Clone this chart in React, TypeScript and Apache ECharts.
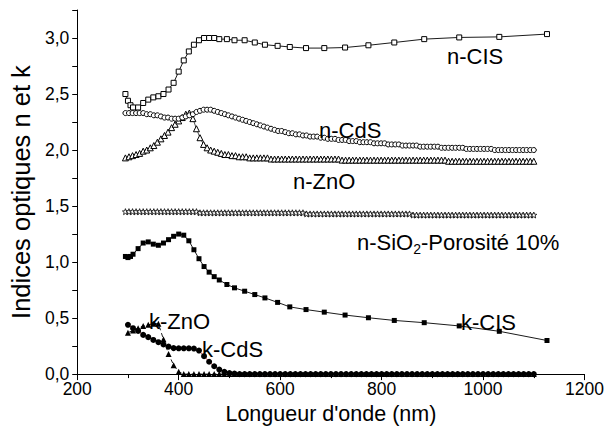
import React, { useEffect, useRef } from 'react';
import * as echarts from 'echarts';

// Wavelength grid (nm) of the dense n-CdS / n-ZnO / n-SiO2 curves
const denseWavelengths = [
  295, 302, 309, 316, 323, 330, 337, 344, 351, 358,
  365, 372, 379, 386, 393, 400, 407, 414, 421, 428,
  435, 442, 449, 456, 463, 470, 477, 484, 491, 498,
  505, 512, 519, 526, 533, 540, 547, 554, 561, 568,
  575, 582, 589, 596, 603, 610, 617, 624, 631, 638,
  645, 652, 659, 666, 673, 680, 687, 694, 701, 708,
  715, 722, 729, 736, 743, 750, 757, 764, 771, 778,
  785, 792, 799, 806, 813, 820, 827, 834, 841, 848,
  855, 862, 869, 876, 883, 890, 897, 904, 911, 918,
  925, 932, 939, 946, 953, 960, 967, 974, 981, 988,
  995, 1002, 1009, 1016, 1023, 1030, 1037, 1044, 1051, 1058,
  1065, 1072, 1079, 1086, 1093, 1100,
];

const nCdS = [
  2.33, 2.33, 2.33, 2.33, 2.33, 2.33, 2.32, 2.32, 2.31, 2.31,
  2.30, 2.29, 2.29, 2.28, 2.28, 2.28, 2.29, 2.30, 2.31, 2.32,
  2.34, 2.35, 2.36, 2.36, 2.36, 2.35, 2.34, 2.33, 2.32, 2.31,
  2.30, 2.29, 2.28, 2.27, 2.26, 2.25, 2.24, 2.23, 2.22, 2.21,
  2.20, 2.19, 2.18, 2.17, 2.17, 2.16, 2.15, 2.15, 2.14, 2.14,
  2.13, 2.13, 2.12, 2.12, 2.12, 2.11, 2.11, 2.10, 2.10, 2.10,
  2.09, 2.09, 2.09, 2.08, 2.08, 2.08, 2.07, 2.07, 2.07, 2.07,
  2.06, 2.06, 2.06, 2.06, 2.05, 2.05, 2.05, 2.05, 2.04, 2.04,
  2.04, 2.04, 2.04, 2.03, 2.03, 2.03, 2.03, 2.03, 2.03, 2.02,
  2.02, 2.02, 2.02, 2.02, 2.02, 2.02, 2.01, 2.01, 2.01, 2.01,
  2.01, 2.01, 2.01, 2.01, 2.00, 2.00, 2.00, 2.00, 2.00, 2.00,
  2.00, 2.00, 2.00, 2.00, 2.00, 2.00,
];

const nZnO = [
  1.93, 1.94, 1.95, 1.96, 1.97, 1.99, 2.00, 2.02, 2.04, 2.07,
  2.10, 2.13, 2.16, 2.20, 2.23, 2.26, 2.29, 2.32, 2.33, 2.28,
  2.19, 2.11, 2.05, 2.02, 2.00, 1.99, 1.98, 1.97, 1.96, 1.96,
  1.95, 1.95, 1.94, 1.94, 1.94, 1.93, 1.93, 1.93, 1.93, 1.93,
  1.93, 1.92, 1.92, 1.92, 1.92, 1.92, 1.92, 1.92, 1.92, 1.92,
  1.92, 1.92, 1.92, 1.92, 1.92, 1.92, 1.92, 1.92, 1.92, 1.92,
  1.92, 1.91, 1.91, 1.91, 1.91, 1.91, 1.91, 1.91, 1.91, 1.91,
  1.91, 1.91, 1.91, 1.91, 1.91, 1.91, 1.91, 1.91, 1.91, 1.91,
  1.91, 1.91, 1.91, 1.91, 1.91, 1.91, 1.91, 1.91, 1.91, 1.91,
  1.91, 1.90, 1.90, 1.90, 1.90, 1.90, 1.90, 1.90, 1.90, 1.90,
  1.90, 1.90, 1.90, 1.90, 1.90, 1.90, 1.90, 1.90, 1.90, 1.90,
  1.90, 1.90, 1.90, 1.90, 1.90, 1.90,
];

const nSiO2 = [
  1.45, 1.45, 1.45, 1.45, 1.45, 1.45, 1.45, 1.45, 1.45, 1.45,
  1.45, 1.45, 1.45, 1.45, 1.45, 1.45, 1.45, 1.45, 1.45, 1.45,
  1.45, 1.44, 1.44, 1.44, 1.44, 1.44, 1.44, 1.44, 1.44, 1.44,
  1.44, 1.44, 1.44, 1.44, 1.44, 1.44, 1.44, 1.44, 1.44, 1.44,
  1.44, 1.44, 1.44, 1.44, 1.44, 1.44, 1.44, 1.44, 1.44, 1.44,
  1.44, 1.43, 1.43, 1.43, 1.43, 1.43, 1.43, 1.43, 1.43, 1.43,
  1.43, 1.43, 1.43, 1.43, 1.43, 1.43, 1.43, 1.43, 1.43, 1.43,
  1.43, 1.43, 1.43, 1.43, 1.43, 1.43, 1.43, 1.43, 1.43, 1.43,
  1.43, 1.42, 1.42, 1.42, 1.42, 1.42, 1.42, 1.42, 1.42, 1.42,
  1.42, 1.42, 1.42, 1.42, 1.42, 1.42, 1.42, 1.42, 1.42, 1.42,
  1.42, 1.42, 1.42, 1.42, 1.42, 1.42, 1.42, 1.42, 1.42, 1.42,
  1.42, 1.42, 1.42, 1.42, 1.42, 1.42,
];

// Wavelength grid (nm) of the k-CdS / k-ZnO curves
const kWavelengths = [
  300, 310, 320, 330, 340, 350, 360, 370, 380, 390,
  400, 410, 420, 430, 440, 450, 460, 470, 480, 490,
  500, 510, 520, 530, 540, 550, 560, 570, 580, 590,
  600, 610, 620, 630, 640, 650, 660, 670, 680, 690,
  700, 710, 720, 730, 740, 750, 760, 770, 780, 790,
  800, 810, 820, 830, 840, 850, 860, 870, 880, 890,
  900, 910, 920, 930, 940, 950, 960, 970, 980, 990,
  1000, 1010, 1020, 1030, 1040, 1050, 1060, 1070, 1080, 1090,
  1100,
];

const kCdS = [
  0.44, 0.41, 0.385, 0.35, 0.33, 0.305, 0.285, 0.265, 0.245, 0.232,
  0.23, 0.23, 0.23, 0.228, 0.21, 0.16, 0.11, 0.07, 0.04, 0.02,
  0.01, 0.005, 0, 0, 0, 0, 0, 0, 0, 0,
  0, 0, 0, 0, 0, 0, 0, 0, 0, 0,
  0, 0, 0, 0, 0, 0, 0, 0, 0, 0,
  0, 0, 0, 0, 0, 0, 0, 0, 0, 0,
  0, 0, 0, 0, 0, 0, 0, 0, 0, 0,
  0, 0, 0, 0, 0, 0, 0, 0, 0, 0,
  0,
];

const kZnO = [
  0.37, 0.39, 0.41, 0.43, 0.44, 0.45, 0.45, 0.31, 0.18, 0.08,
  0.02, 0, 0, 0, 0, 0, 0, 0, 0, 0,
  0, 0, 0, 0, 0, 0, 0, 0, 0, 0,
  0, 0, 0, 0, 0, 0, 0, 0, 0, 0,
  0, 0, 0, 0, 0, 0, 0, 0, 0, 0,
  0, 0, 0, 0, 0, 0, 0, 0, 0, 0,
  0, 0, 0, 0, 0, 0, 0, 0, 0, 0,
  0, 0, 0, 0, 0, 0, 0, 0, 0, 0,
  0,
];

// Wavelength grid (nm) of the CIS curves
const cisWavelengths = [
  295, 300, 305, 310, 320, 330, 340, 350, 360, 370,
  380, 390, 400, 410, 420, 430, 440, 450, 460, 470,
  480, 495, 510, 530, 550, 570, 595, 619, 651, 687,
  728, 774, 825, 884, 953, 1032, 1126,
];

const nCIS = [
  2.50, 2.44, 2.40, 2.38, 2.38, 2.42, 2.45, 2.47, 2.48, 2.50,
  2.54, 2.60, 2.70, 2.80, 2.88, 2.94, 2.98, 3.00, 3.00, 3.00,
  2.99, 2.99, 2.98, 2.98, 2.96, 2.94, 2.93, 2.92, 2.91, 2.91,
  2.915, 2.935, 2.96, 2.99, 3.005, 3.01, 3.035,
];

const kCIS = [
  1.05, 1.04, 1.05, 1.07, 1.12, 1.17, 1.18, 1.16, 1.15, 1.17,
  1.20, 1.23, 1.25, 1.24, 1.19, 1.11, 1.03, 0.96, 0.91, 0.87,
  0.84, 0.80, 0.77, 0.74, 0.71, 0.68, 0.64, 0.60, 0.576, 0.553,
  0.527, 0.503, 0.479, 0.459, 0.43, 0.382, 0.30,
];

const xTitle = "Longueur d'onde (nm)";
const yTitle = 'Indices optiques n et k';

const FONT = '"Liberation Sans", Arial, Helvetica, sans-serif';
const STAR =
  'path://M12,1 L14.9,8.6 L23,9.1 L16.7,14.2 L18.8,22.1 L12,17.6 L5.2,22.1 L7.3,14.2 L1,9.1 L9.1,8.6 Z';

const pairs = (xs: number[], ys: number[]) => xs.map((x, i) => [x, ys[i]]);

export default function App() {
  const ref = useRef<HTMLDivElement>(null);

  useEffect(() => {
    if (!ref.current) return;
    const chart = echarts.init(ref.current, null, { renderer: 'svg' });

    const openStyle = { color: '#ffffff', borderColor: '#000000', borderWidth: 1 };
    const filledStyle = { color: '#000000', borderColor: '#000000', borderWidth: 0 };
    const line = (w = 0.9, type: any = 'solid', color = '#000') => ({ color, width: w, type });

    const annFont = { fontFamily: FONT, fontSize: 22, fill: '#000' };
    const ann = (text: string, x: number, y: number) => ({
      type: 'text',
      x,
      y,
      style: { ...annFont, text, align: 'left', verticalAlign: 'middle' },
      z: 100,
    });

    chart.setOption({
      animation: false,
      backgroundColor: '#ffffff',
      grid: { left: 70, right: 21, top: 10, bottom: 52, containLabel: false },
      xAxis: {
        type: 'value',
        min: 200,
        max: 1200,
        interval: 200,
        name: xTitle,
        nameLocation: 'middle',
        nameGap: 21,
        nameTextStyle: { fontFamily: FONT, fontSize: 21.5, color: '#000' },
        axisLine: { show: true, onZero: false, lineStyle: { color: '#000', width: 1 } },
        axisTick: { show: true, inside: false, length: 6, lineStyle: { color: '#000', width: 1 } },
        minorTick: { show: true, splitNumber: 2, length: 4, lineStyle: { color: '#000', width: 1 } },
        axisLabel: {
          fontFamily: FONT,
          fontSize: 17.5,
          color: '#000',
          margin: 6,
          formatter: (v: number) => String(Math.round(v)),
        },
        splitLine: { show: false },
      },
      yAxis: {
        type: 'value',
        min: 0,
        max: 3.25,
        interval: 0.25,
        name: yTitle,
        nameLocation: 'middle',
        nameGap: 35,
        nameTextStyle: { fontFamily: FONT, fontSize: 25.5, color: '#000' },
        axisLine: { show: true, onZero: false, lineStyle: { color: '#000', width: 1 } },
        axisTick: { show: true, inside: false, length: 5, lineStyle: { color: '#000', width: 1 } },
        axisLabel: {
          fontFamily: FONT,
          fontSize: 17.5,
          color: '#000',
          margin: 8,
          formatter: (v: number) => {
            const r = Math.round(v * 100);
            if (r % 50 !== 0) return '';
            return (r / 100).toFixed(1).replace('.', ',');
          },
        },
        splitLine: { show: false },
      },
      series: [
        {
          name: 'n-CIS',
          type: 'line',
          data: pairs(cisWavelengths, nCIS),
          symbol: 'rect',
          symbolSize: 5,
          itemStyle: openStyle,
          lineStyle: line(0.9),
          z: 5,
        },
        {
          name: 'n-CdS',
          type: 'line',
          data: pairs(denseWavelengths, nCdS),
          symbol: 'circle',
          symbolSize: 5,
          itemStyle: openStyle,
          lineStyle: line(0.7),
          z: 4,
        },
        {
          name: 'n-ZnO',
          type: 'line',
          data: pairs(denseWavelengths, nZnO),
          symbol: 'triangle',
          symbolSize: 6,
          itemStyle: openStyle,
          lineStyle: line(0.7),
          z: 3,
        },
        {
          name: 'n-SiO2',
          type: 'line',
          data: pairs(denseWavelengths, nSiO2),
          symbol: STAR,
          symbolSize: 6,
          itemStyle: { color: '#ffffff', borderColor: '#000', borderWidth: 0.8 },
          lineStyle: line(0.7),
          z: 3,
        },
        {
          name: 'k-CIS',
          type: 'line',
          data: pairs(cisWavelengths, kCIS),
          symbol: 'rect',
          symbolSize: 5,
          itemStyle: filledStyle,
          lineStyle: line(0.9),
          z: 5,
        },
        {
          name: 'k-CdS',
          type: 'line',
          data: pairs(kWavelengths, kCdS),
          symbol: 'circle',
          symbolSize: 6,
          itemStyle: filledStyle,
          lineStyle: line(0.8, 'solid', '#cc2222'),
          z: 4,
        },
        {
          name: 'k-ZnO',
          type: 'line',
          data: pairs(kWavelengths, kZnO),
          symbol: 'triangle',
          symbolSize: 6,
          itemStyle: filledStyle,
          lineStyle: line(0.9, [4, 3]),
          z: 5,
        },
      ],
      graphic: [
        ann('n-CIS', 447, 56),
        ann('n-CdS', 319, 130),
        ann('n-ZnO', 293, 181),
        {
          type: 'text',
          x: 357,
          y: 242,
          z: 100,
          style: {
            text: '{a|n-SiO}{s|2}{a|-Porosité 10%}',
            fontFamily: FONT,
            fontSize: 22,
            fill: '#000',
            align: 'left',
            verticalAlign: 'middle',
            rich: {
              a: { fontFamily: FONT, fontSize: 22, fill: '#000' },
              s: { fontFamily: FONT, fontSize: 14, fill: '#000', padding: [14, 0, 0, 0] },
            },
          },
        },
        ann('k-ZnO', 149, 321),
        ann('k-CdS', 202, 349),
        ann('k-CIS', 461, 322),
      ],
    });

    return () => chart.dispose();
  }, []);

  return (
    <div
      ref={ref}
      style={{ position: 'absolute', left: 0, top: 0, width: 607, height: 430 }}
    />
  );
}
